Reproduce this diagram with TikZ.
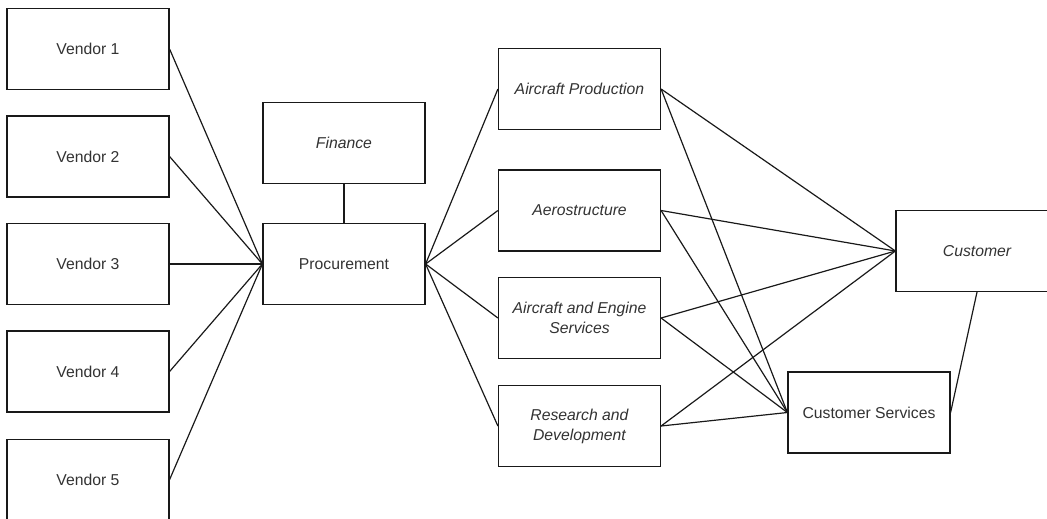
\documentclass[tikz,border=0pt]{standalone}
\usepackage{fontspec}
\setmainfont{Liberation Sans}
\usepackage{tikz}
\usetikzlibrary{positioning}

\tikzset{
  box/.style={draw=black!90, line width=0.85pt, fill=white, minimum width=4.05cm,
    minimum height=2.025cm, align=center, text=black!80,
    font=\fontsize{11.2}{14.2}\selectfont},
  itbox/.style={box, font=\fontsize{11.2}{14.2}\selectfont\itshape},
  link/.style={draw=black!90, line width=0.85pt}
}

\begin{document}
\begin{tikzpicture}
\useasboundingbox (0,0) rectangle (26.175,-12.95);
\clip (0,0) rectangle (26.175,-12.95);
\node[box] (V1) at (2.2,-1.225) {Vendor 1};
\node[box] (V2) at (2.2,-3.9125) {Vendor 2};
\node[box] (V3) at (2.2,-6.6) {Vendor 3};
\node[box] (V4) at (2.2,-9.2875) {Vendor 4};
\node[box] (V5) at (2.2,-11.99) {Vendor 5};
\node[itbox] (F) at (8.6,-3.575) {Finance};
\node[box] (P) at (8.6,-6.6) {Procurement};
\node[itbox] (AP) at (14.4875,-2.225) {Aircraft Production};
\node[itbox] (AS) at (14.4875,-5.2625) {Aerostructure};
\node[itbox] (AE) at (14.4875,-7.95) {Aircraft and Engine\\Services};
\node[itbox] (RD) at (14.4875,-10.65) {Research and\\Development};
\node[itbox] (C) at (24.425,-6.275) {Customer};
\node[box] (CS) at (21.725,-10.3125) {Customer Services};
\foreach \v in {V1,V2,V3,V4,V5}
  \draw[link] (\v.east)--(P.west);
\draw[link] (F.south)--(P.north);
\foreach \d in {AP,AS,AE,RD}{
  \draw[link] (P.east)--(\d.west);
  \draw[link] (\d.east)--(C.west);
  \draw[link] (\d.east)--(CS.west);
}
\draw[link] (C.south)--(CS.east);
\end{tikzpicture}
\end{document}
